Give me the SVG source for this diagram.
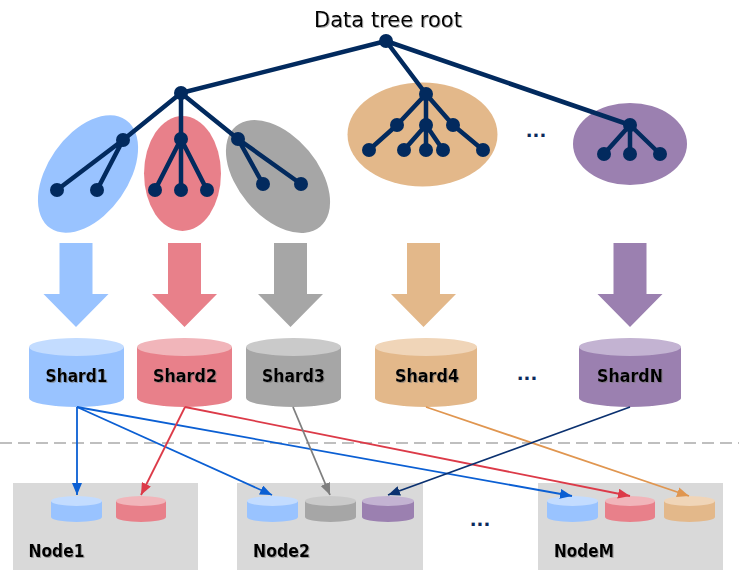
<svg xmlns="http://www.w3.org/2000/svg" width="739" height="576" viewBox="0 0 739 576">
<defs>
<style>
.t{font-family:"DejaVu Sans","Liberation Sans",sans-serif;fill:#000}
.lab{font-family:"DejaVu Sans","Liberation Sans",sans-serif;font-weight:bold;font-size:17px;fill:#000;filter:url(#sh)}
.tree{stroke:#022a5e;stroke-width:4.5;fill:none;stroke-linecap:round}
.dot{fill:#022a5e}
.con{fill:none;stroke-width:1.8}
.box{fill:#d9d9d9}
.dots{font-family:"DejaVu Sans","Liberation Sans",sans-serif;font-weight:bold;font-size:18px;fill:#0b2a5c}
</style>
<filter id="sh" x="-10%" y="-20%" width="130%" height="150%"><feDropShadow dx="1" dy="1" stdDeviation="0.6" flood-color="#777" flood-opacity="0.6"/></filter>
<marker id="mB" viewBox="0 0 12 10" refX="12" refY="5" markerWidth="12" markerHeight="10" markerUnits="userSpaceOnUse" orient="auto"><path d="M0,0 L12,5 L0,10 z" fill="#0b5fd3"/></marker>
<marker id="mR" viewBox="0 0 12 10" refX="12" refY="5" markerWidth="12" markerHeight="10" markerUnits="userSpaceOnUse" orient="auto"><path d="M0,0 L12,5 L0,10 z" fill="#dc3a48"/></marker>
<marker id="mG" viewBox="0 0 12 10" refX="12" refY="5" markerWidth="12" markerHeight="10" markerUnits="userSpaceOnUse" orient="auto"><path d="M0,0 L12,5 L0,10 z" fill="#7f7f7f"/></marker>
<marker id="mO" viewBox="0 0 12 10" refX="12" refY="5" markerWidth="12" markerHeight="10" markerUnits="userSpaceOnUse" orient="auto"><path d="M0,0 L12,5 L0,10 z" fill="#e09650"/></marker>
<marker id="mN" viewBox="0 0 12 10" refX="12" refY="5" markerWidth="12" markerHeight="10" markerUnits="userSpaceOnUse" orient="auto"><path d="M0,0 L12,5 L0,10 z" fill="#0b3170"/></marker>
</defs>
<rect width="739" height="576" fill="#fff"/>

<text class="t" x="388" y="27" font-size="21" text-anchor="middle" filter="url(#sh)">Data tree root</text>

<!-- ellipses -->
<g id="groups">
<ellipse cx="88" cy="174" rx="66" ry="40" fill="#99c3ff" transform="rotate(-55 88 174)"/>
<ellipse cx="182.5" cy="173.5" rx="38.5" ry="57.5" fill="#e8808a"/>
<ellipse cx="278" cy="176.5" rx="65.5" ry="40" fill="#a6a6a6" transform="rotate(50 278 176.5)"/>
<ellipse cx="422.5" cy="134.5" rx="75" ry="52" fill="#e3b88a"/>
<ellipse cx="630" cy="144" rx="57" ry="41" fill="#9b80b0"/>
<text class="dots" x="536" y="137" text-anchor="middle">...</text>
</g>

<!-- tree -->
<g id="tree">
<path class="tree" d="M386,41 L181,93 M386,41 L426,94 M386,41 L630,125
M181,93 L123,140 M181,93 L181,139 M181,93 L238,139
M123,140 L57,190 M123,140 L97,190
M181,139 L155,190 M181,139 L181,190 M181,139 L207,190
M238,139 L263,184 M238,139 L301,184
M426,94 L397,125 M426,94 L426,125 M426,94 L453,125
M397,125 L369,150 M426,125 L404,150 M426,125 L426,150 M426,125 L443,150 M453,125 L483,150
M630,125 L604,154 M630,125 L630,154 M630,125 L660,154"/>
<g class="dot">
<circle cx="386" cy="41" r="7"/>
<circle cx="181" cy="93" r="7"/>
<circle cx="123" cy="140" r="7"/><circle cx="181" cy="139" r="7"/><circle cx="238" cy="139" r="7"/>
<circle cx="57" cy="190" r="7"/><circle cx="97" cy="190" r="7"/>
<circle cx="155" cy="190" r="7"/><circle cx="181" cy="190" r="7"/><circle cx="207" cy="190" r="7"/>
<circle cx="263" cy="184" r="7"/><circle cx="301" cy="184" r="7"/>
<circle cx="426" cy="94" r="7"/>
<circle cx="397" cy="125" r="7"/><circle cx="426" cy="125" r="7"/><circle cx="453" cy="125" r="7"/>
<circle cx="369" cy="150" r="7"/><circle cx="404" cy="150" r="7"/><circle cx="426" cy="150" r="7"/><circle cx="443" cy="150" r="7"/><circle cx="483" cy="150" r="7"/>
<circle cx="630" cy="125" r="7"/>
<circle cx="604" cy="154" r="7"/><circle cx="630" cy="154" r="7"/><circle cx="660" cy="154" r="7"/>
</g>
</g>

<!-- big arrows -->
<g id="bigarrows">
<polygon points="59.5,243 92.5,243 92.5,294 108.5,294 76,327 43.5,294 59.5,294" fill="#99c3ff"/>
<polygon points="168,243 201,243 201,294 217,294 184.5,327 152,294 168,294" fill="#e8808a"/>
<polygon points="274,243 307,243 307,294 323,294 290.5,327 258,294 274,294" fill="#a6a6a6"/>
<polygon points="407,243 440,243 440,294 456,294 423.5,327 391,294 407,294" fill="#e3b88a"/>
<polygon points="613.5,243 646.5,243 646.5,294 662.5,294 630,327 597.5,294 613.5,294" fill="#9b80b0"/>
</g>

<!-- shards -->
<g id="shard1">
<path d="M29,347 L29,398 A47.5,9 0 0 0 124,398 L124,347 Z" fill="#99c3ff"/>
<ellipse cx="76.5" cy="347" rx="47.5" ry="9" fill="#c3dcff"/>
<text class="lab" x="45.5" y="381.5" textLength="62" lengthAdjust="spacingAndGlyphs">Shard1</text>
</g>
<g id="shard2">
<path d="M137,347 L137,398 A47.5,9 0 0 0 232,398 L232,347 Z" fill="#e8808a"/>
<ellipse cx="184.5" cy="347" rx="47.5" ry="9" fill="#f1b5ba"/>
<text class="lab" x="153" y="381.5" textLength="64" lengthAdjust="spacingAndGlyphs">Shard2</text>
</g>
<g id="shard3">
<path d="M246,347 L246,398 A47.5,9 0 0 0 341,398 L341,347 Z" fill="#a6a6a6"/>
<ellipse cx="293.5" cy="347" rx="47.5" ry="9" fill="#cacaca"/>
<text class="lab" x="262" y="381.5" textLength="63" lengthAdjust="spacingAndGlyphs">Shard3</text>
</g>
<g id="shard4">
<path d="M375,347 L375,398 A51,9 0 0 0 477,398 L477,347 Z" fill="#e3b88a"/>
<ellipse cx="426" cy="347" rx="51" ry="9" fill="#f0d5b8"/>
<text class="lab" x="395" y="381.5" textLength="64" lengthAdjust="spacingAndGlyphs">Shard4</text>
</g>
<text class="dots" x="527" y="380" text-anchor="middle">...</text>
<g id="shardN">
<path d="M579,347 L579,398 A51,9 0 0 0 681,398 L681,347 Z" fill="#9b80b0"/>
<ellipse cx="630" cy="347" rx="51" ry="9" fill="#c3b3d2"/>
<text class="lab" x="597" y="381.5" textLength="66" lengthAdjust="spacingAndGlyphs">ShardN</text>
</g>

<line x1="0" y1="443" x2="739" y2="443" stroke="#bfbfbf" stroke-width="2" stroke-dasharray="12,6"/>

<!-- nodes -->
<g id="node1">
<rect class="box" x="13" y="483" width="185" height="87"/>
<path d="M51,501 L51,517 A25.5,5 0 0 0 102,517 L102,501 Z" fill="#99c3ff"/>
<ellipse cx="76.5" cy="501" rx="25.5" ry="5" fill="#c3dcff"/>
<path d="M116,501 L116,517 A25,5 0 0 0 166,517 L166,501 Z" fill="#e8808a"/>
<ellipse cx="141" cy="501" rx="25" ry="5" fill="#f1b5ba"/>
<text class="lab" x="28.5" y="556.5" textLength="56" lengthAdjust="spacingAndGlyphs">Node1</text>
</g>
<g id="node2">
<rect class="box" x="237" y="483" width="186" height="87"/>
<path d="M247,501 L247,517 A25.5,5 0 0 0 298,517 L298,501 Z" fill="#99c3ff"/>
<ellipse cx="272.5" cy="501" rx="25.5" ry="5" fill="#c3dcff"/>
<path d="M305,501 L305,517 A25.5,5 0 0 0 356,517 L356,501 Z" fill="#a6a6a6"/>
<ellipse cx="330.5" cy="501" rx="25.5" ry="5" fill="#cacaca"/>
<path d="M362,501 L362,517 A26,5 0 0 0 414,517 L414,501 Z" fill="#9b80b0"/>
<ellipse cx="388" cy="501" rx="26" ry="5" fill="#c3b3d2"/>
<text class="lab" x="253" y="556.5" textLength="57" lengthAdjust="spacingAndGlyphs">Node2</text>
</g>
<text class="dots" x="480" y="526" text-anchor="middle">...</text>
<g id="nodeM">
<rect class="box" x="538" y="483" width="185" height="87"/>
<path d="M547,501 L547,517 A25.5,5 0 0 0 598,517 L598,501 Z" fill="#99c3ff"/>
<ellipse cx="572.5" cy="501" rx="25.5" ry="5" fill="#c3dcff"/>
<path d="M605,501 L605,517 A25,5 0 0 0 655,517 L655,501 Z" fill="#e8808a"/>
<ellipse cx="630" cy="501" rx="25" ry="5" fill="#f1b5ba"/>
<path d="M664,501 L664,517 A25.5,5 0 0 0 715,517 L715,501 Z" fill="#e3b88a"/>
<ellipse cx="689.5" cy="501" rx="25.5" ry="5" fill="#f0d5b8"/>
<text class="lab" x="554" y="556.5" textLength="60" lengthAdjust="spacingAndGlyphs">NodeM</text>
</g>

<!-- connectors -->
<g id="connectors">
<line class="con" x1="77" y1="407" x2="77" y2="495" stroke="#0b5fd3" marker-end="url(#mB)"/>
<line class="con" x1="77" y1="407" x2="272" y2="495" stroke="#0b5fd3" marker-end="url(#mB)"/>
<line class="con" x1="77" y1="407" x2="572" y2="496" stroke="#0b5fd3" marker-end="url(#mB)"/>
<line class="con" x1="185" y1="407" x2="141" y2="495" stroke="#dc3a48" marker-end="url(#mR)"/>
<line class="con" x1="185" y1="407" x2="630" y2="496" stroke="#dc3a48" marker-end="url(#mR)"/>
<line class="con" x1="293" y1="407" x2="330" y2="495" stroke="#7f7f7f" marker-end="url(#mG)"/>
<line class="con" x1="426" y1="407" x2="689" y2="496" stroke="#e09650" marker-end="url(#mO)"/>
<line class="con" x1="630" y1="407" x2="388" y2="495" stroke="#0b3170" marker-end="url(#mN)"/>
</g>
</svg>
